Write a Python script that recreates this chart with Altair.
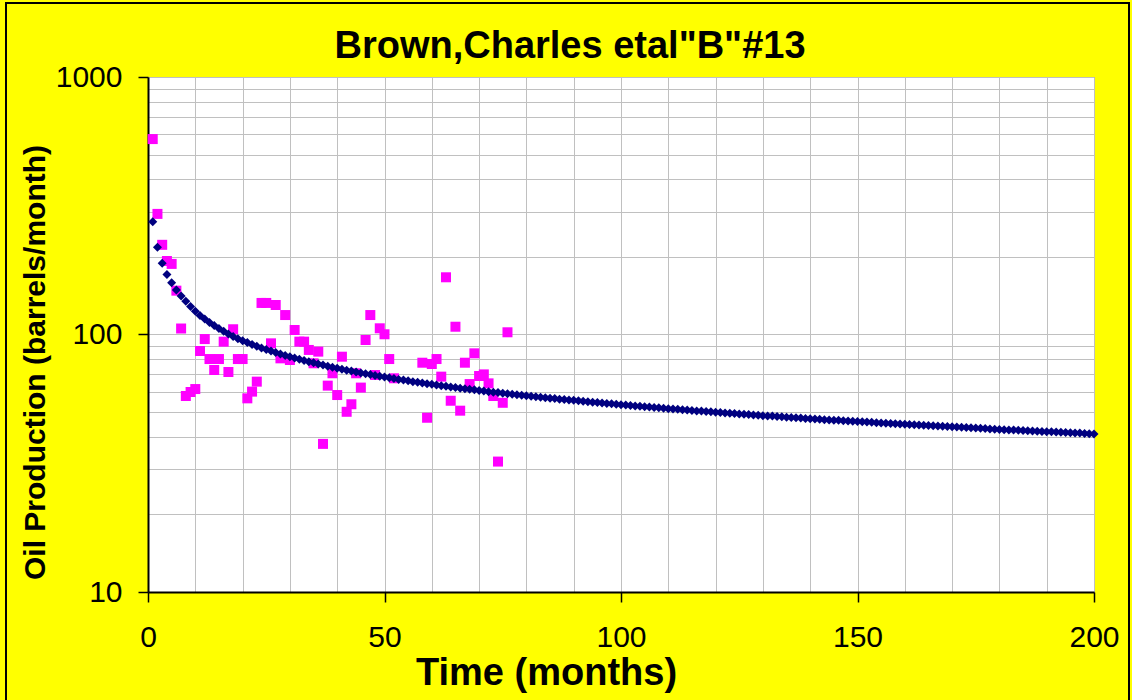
import altair as alt
import pandas as pd

# Monthly oil production of the well (months with no reported production left out)
obs_month = list(range(1, 53)) + list(range(58, 77))
obs_oil = [574, 294, 223, 193, 188, 148, 105.5, 57.7, 59.8, 61.4,
           86.3, 96, 80.3, 72.8, 80.3, 93.8, 71.5, 104.8, 80.3, 80.3,
           56.5, 60, 65.6, 132.6, 132.6, 92.4, 130.2, 80.8, 119, 79.6,
           104.1, 93.8, 93.8, 87.1, 77.3, 85.8, 37.6, 63.3, 70.7, 58.2,
           82, 50.1, 53.6, 70.7, 62.2, 95.2, 119, 69.6, 105.7, 100.2,
           80.3, 67.6,
           77.7, 47.5, 76.8, 80.3, 68.6, 166.8, 55.3, 107.2, 50.6, 77.7,
           64.2, 84.5, 69, 70, 64.6, 57.7, 32.1, 54.3, 102]

# Decline-curve forecast, one value per month
fit_month = list(range(1, 201))
fit_oil = [274, 218, 189, 171, 159, 149, 141, 134.5, 128.5, 123.0,
           118.6, 114.8, 111.4, 108.4, 105.6, 102.9, 100.5, 98.3, 96.3, 94.6,
           93.0, 91.5, 90.0, 88.7, 87.4, 86.2, 85.1, 84.0, 82.9, 81.9,
           81.0, 80.1, 79.2, 78.4, 77.6, 76.8, 76.1, 75.3, 74.6, 74.0,
           73.3, 72.7, 72.1, 71.5, 70.9, 70.4, 69.9, 69.3, 68.8, 68.4,
           67.9, 67.4, 66.9, 66.5, 66.1, 65.6, 65.2, 64.8, 64.4, 64.1,
           63.7, 63.3, 63.0, 62.6, 62.3, 61.9, 61.6, 61.3, 61.0, 60.6,
           60.3, 60.0, 59.7, 59.5, 59.2, 58.9, 58.6, 58.3, 58.1, 57.8,
           57.6, 57.3, 57.1, 56.8, 56.6, 56.4, 56.1, 55.9, 55.7, 55.5,
           55.3, 55.0, 54.8, 54.6, 54.4, 54.2, 54.0, 53.8, 53.6, 53.4,
           53.2, 53.0, 52.8, 52.6, 52.4, 52.3, 52.1, 51.9, 51.7, 51.5,
           51.4, 51.2, 51.0, 50.9, 50.7, 50.5, 50.4, 50.2, 50.1, 49.9,
           49.8, 49.6, 49.4, 49.3, 49.1, 49.0, 48.9, 48.7, 48.6, 48.4,
           48.3, 48.2, 48.0, 47.9, 47.7, 47.6, 47.5, 47.4, 47.2, 47.1,
           47.0, 46.9, 46.7, 46.6, 46.5, 46.4, 46.2, 46.1, 46.0, 45.9,
           45.8, 45.7, 45.6, 45.4, 45.3, 45.2, 45.1, 45.0, 44.9, 44.8,
           44.7, 44.6, 44.5, 44.4, 44.3, 44.2, 44.1, 44.0, 43.9, 43.8,
           43.7, 43.6, 43.5, 43.4, 43.3, 43.2, 43.1, 43.0, 42.9, 42.8,
           42.7, 42.6, 42.6, 42.5, 42.4, 42.3, 42.2, 42.1, 42.0, 41.9,
           41.9, 41.8, 41.7, 41.6, 41.5, 41.4, 41.4, 41.3, 41.2, 41.1]

# Axis tick / grid positions
x_grid = list(range(0, 201, 10))
x_labelled = [0, 50, 100, 150, 200]
y_grid = [10, 20, 30, 40, 50, 60, 70, 80, 90,
          100, 200, 300, 400, 500, 600, 700, 800, 900, 1000]
y_labelled = [10, 100, 1000]

TITLE = 'Brown,Charles etal"B"#13'
FONT = "Liberation Sans"

obs_df = pd.DataFrame({"month": obs_month, "oil": obs_oil})
fit_df = pd.DataFrame({"month": fit_month, "oil": fit_oil})

x_test = "indexof(" + str(x_labelled) + ", datum.value) >= 0"
y_test = "indexof(" + str(y_labelled) + ", datum.value) >= 0"

x_enc = alt.X(
    "month:Q",
    scale=alt.Scale(domain=[0, 200], nice=False, zero=False),
    axis=alt.Axis(
        values=x_grid,
        labelExpr=x_test + " ? format(datum.value, 'd') : ''",
        title="Time (months)",
        titleFont=FONT, titleFontSize=38, titleFontWeight="bold", titleColor="black",
        titleX=398, titleY=92, titleAlign="center", titleBaseline="alphabetic",
        labelFont=FONT, labelFontSize=30, labelColor="black", labelPadding=20,
        labelFlush=False, labelOverlap=False,
        tickColor="black", tickSize=10, tickWidth=1.5,
        tickOpacity={"condition": {"test": x_test, "value": 1}, "value": 0},
        domainColor="black", domainWidth=2,
        grid=True, gridColor="#C0C0C0", gridWidth=1,
    ),
)

y_enc = alt.Y(
    "oil:Q",
    scale=alt.Scale(type="log", domain=[10, 1000], nice=False),
    axis=alt.Axis(
        values=y_grid,
        labelExpr=y_test + " ? format(datum.value, 'd') : ''",
        title="Oil Production (barrels/month)",
        titleFont=FONT, titleFontSize=30, titleFontWeight="bold", titleColor="black",
        titleX=-113, titleY=285, titleAngle=-90, titleAlign="center",
        titleBaseline="middle",
        labelFont=FONT, labelFontSize=30, labelColor="black", labelPadding=16,
        labelFlush=False, labelOverlap=False,
        tickColor="black", tickSize=10, tickWidth=1.5,
        tickOpacity={"condition": {"test": y_test, "value": 1}, "value": 0},
        domainColor="black", domainWidth=2,
        grid=True, gridColor="#C0C0C0", gridWidth=1,
    ),
)

observed = alt.Chart(obs_df).mark_point(
    shape="square", filled=True, size=100, color="#FF00FF", opacity=1
).encode(x=x_enc, y=y_enc)

forecast = alt.Chart(fit_df).mark_point(
    shape="diamond", filled=True, size=81, color="#000080", opacity=1
).encode(x="month:Q", y="oil:Q")

one_row = pd.DataFrame({"k": [0]})

# Thin black outline around the whole figure
outline = alt.Chart(one_row).mark_rect(
    fillOpacity=0, stroke="black", strokeWidth=2, clip=False
).encode(
    x=alt.value(-142), x2=alt.value(981), y=alt.value(-74), y2=alt.value(640)
)

# Chart heading
heading = alt.Chart(one_row).mark_text(
    text=TITLE, font=FONT, fontSize=38, fontWeight="bold", color="black",
    align="center", baseline="alphabetic", clip=False
).encode(x=alt.value(422), y=alt.value(-19))

chart = alt.layer(observed, forecast, outline, heading).properties(
    width=946,
    height=515,
    padding={"left": 148, "top": 77, "right": 38, "bottom": 108},
    autosize=alt.AutoSizeParams(type="none"),
    background="#FFFF00",
).configure_view(stroke="#808080", strokeWidth=1, fill="white")

chart.save("out.html", embed_options={"renderer": "svg", "actions": False})
